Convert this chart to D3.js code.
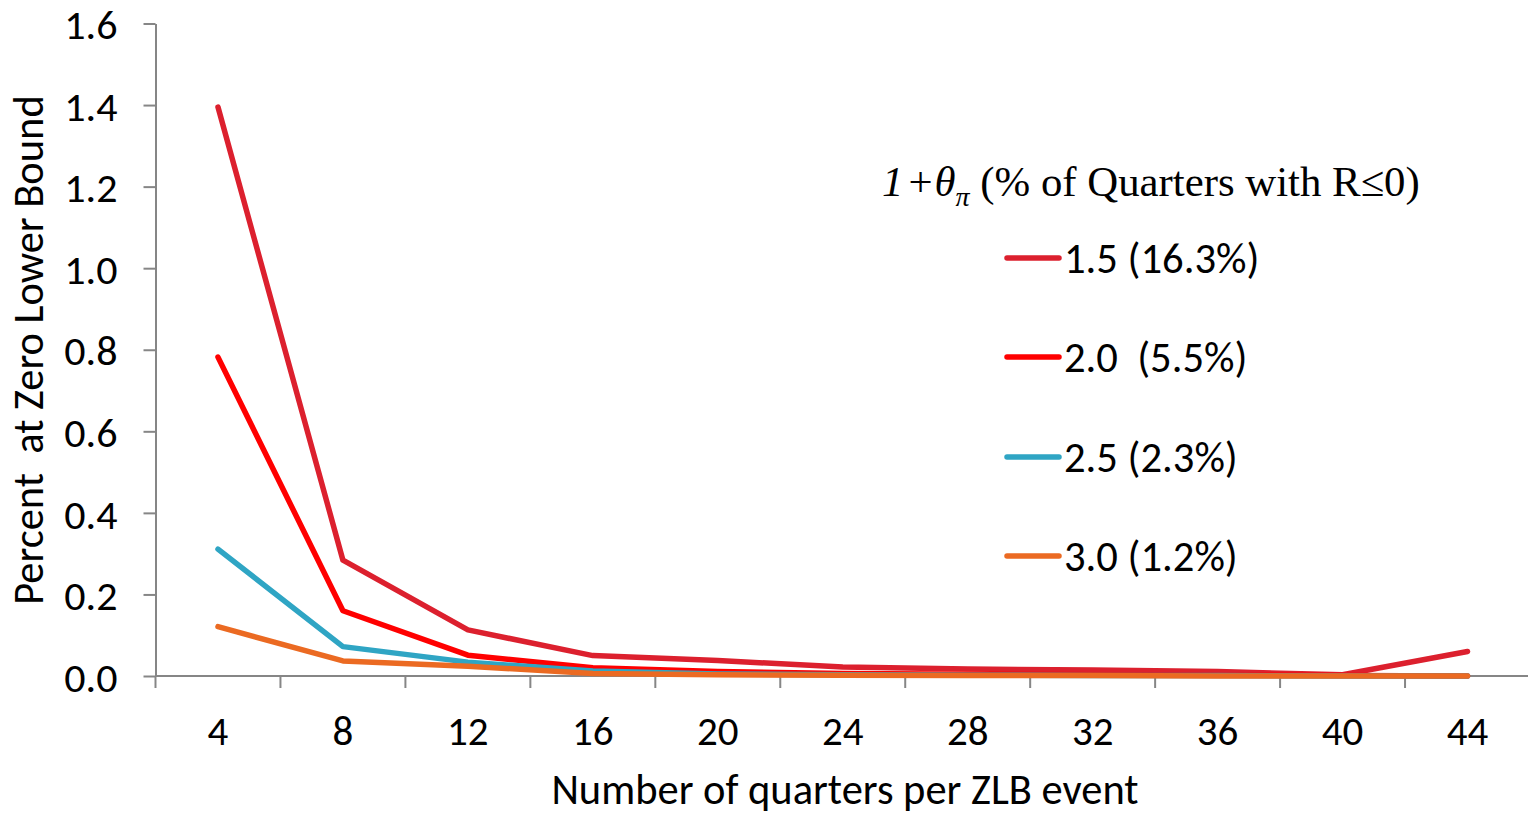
<!DOCTYPE html>
<html>
<head>
<meta charset="utf-8">
<script src="https://cdn.jsdelivr.net/npm/d3@7"></script>
<style>
  html, body { margin: 0; padding: 0; background: #fff; }
  svg { display: block; }
  .sans { font-family: Carlito, Lato, "Open Sans", sans-serif; fill: #000; }
  .serif { font-family: "Liberation Serif", "Times New Roman", serif; fill: #000; }
</style>
</head>
<body>
<svg id="chart" width="1528" height="814"></svg>
<script>
// Quarters per ZLB event (x categories)
const quarters = [4, 8, 12, 16, 20, 24, 28, 32, 36, 40, 44];

// Percent of time at the zero lower bound, one array per policy coefficient
const theta15 = [1.395, 0.284, 0.113, 0.050, 0.038, 0.022, 0.017, 0.015, 0.011, 0.003, 0.060];
const theta20 = [0.782, 0.160, 0.051, 0.020, 0.011, 0.006, 0.004, 0.003, 0.002, 0.001, 0.000];
const theta25 = [0.311, 0.072, 0.034, 0.012, 0.005, 0.003, 0.002, 0.001, 0.001, 0.000, 0.000];
const theta30 = [0.121, 0.037, 0.024, 0.006, 0.003, 0.002, 0.001, 0.001, 0.000, 0.000, 0.000];

const seriesNames = ["1.5 (16.3%)", "2.0  (5.5%)", "2.5 (2.3%)", "3.0 (1.2%)"];
const seriesColors = ["#DC202E", "#FF0000", "#2FA5C4", "#EB6A22"];
const seriesValues = [theta15, theta20, theta25, theta30];

const yTicks = [0, 0.2, 0.4, 0.6, 0.8, 1.0, 1.2, 1.4, 1.6];

const svg = d3.select("#chart");
const axisColor = "#868686";

const x = d3.scaleBand().domain(quarters).range([155.5, 1530]).paddingInner(0).paddingOuter(0);
const y = d3.scaleLinear().domain([0, 1.6]).range([676, 23.5]);

// Y axis
const yAxis = svg.append("g").attr("transform", "translate(155.5,0)")
  .call(d3.axisLeft(y).tickValues(yTicks).tickFormat(d3.format(".1f")).tickSize(12).tickSizeOuter(0).tickPadding(26));
yAxis.select(".domain").attr("stroke", axisColor).attr("stroke-width", 2);
yAxis.selectAll(".tick line").attr("stroke", axisColor).attr("stroke-width", 2);
yAxis.selectAll(".tick text").attr("class", "sans").attr("font-size", 42).attr("dy", "0.36em");

// X axis: baseline with category-boundary ticks
const xg = svg.append("g");
xg.append("line")
  .attr("x1", x.range()[0]).attr("x2", x.range()[1])
  .attr("y1", y(0)).attr("y2", y(0))
  .attr("stroke", axisColor).attr("stroke-width", 2);
xg.selectAll("line.tk").data(quarters).enter().append("line")
  .attr("class", "tk")
  .attr("x1", d => x(d)).attr("x2", d => x(d))
  .attr("y1", y(0)).attr("y2", y(0) + 12)
  .attr("stroke", axisColor).attr("stroke-width", 2);
xg.selectAll("text").data(quarters).enter().append("text")
  .attr("class", "sans")
  .attr("x", d => x(d) + x.bandwidth() / 2)
  .attr("y", 745)
  .attr("text-anchor", "middle")
  .attr("font-size", 41)
  .text(d => d);

// Axis titles
svg.append("text").attr("class", "sans")
  .attr("transform", "translate(43,350) rotate(-90)")
  .attr("text-anchor", "middle")
  .attr("font-size", 42.5)
  .attr("xml:space", "preserve")
  .text("Percent  at Zero Lower Bound");

svg.append("text").attr("class", "sans")
  .attr("x", 845).attr("y", 804)
  .attr("text-anchor", "middle")
  .attr("font-size", 42.5)
  .text("Number of quarters per ZLB event");

// Lines
const line = d3.line()
  .x((d, i) => x(quarters[i]) + x.bandwidth() / 2)
  .y(d => y(d));

seriesValues.forEach((vals, k) => {
  svg.append("path")
    .datum(vals)
    .attr("fill", "none")
    .attr("stroke", seriesColors[k])
    .attr("stroke-width", 5.5)
    .attr("stroke-linejoin", "round")
    .attr("stroke-linecap", "round")
    .attr("d", line);
});

// Legend
const title = svg.append("text").attr("class", "serif")
  .attr("x", 882).attr("y", 196).attr("font-size", 42.8);
title.append("tspan").attr("font-style", "italic").text("1");
title.append("tspan").attr("dx", 5).text("+");
title.append("tspan").attr("dx", 2).attr("font-style", "italic").text("θ");
title.append("tspan").attr("font-style", "italic").attr("font-size", 28).attr("dy", 10).text("π");
title.append("tspan").attr("dy", -10).attr("xml:space", "preserve").text(" (% of Quarters with R≤0)");

const legendY = [258, 357, 457, 556];
const lg = svg.append("g");
seriesNames.forEach((name, k) => {
  lg.append("line")
    .attr("x1", 1007).attr("x2", 1059)
    .attr("y1", legendY[k]).attr("y2", legendY[k])
    .attr("stroke", seriesColors[k]).attr("stroke-width", 5.5)
    .attr("stroke-linecap", "round");
  lg.append("text").attr("class", "sans")
    .attr("x", 1064).attr("y", legendY[k] + 15)
    .attr("font-size", 42.6)
    .attr("xml:space", "preserve")
    .text(name);
});
</script>
</body>
</html>
